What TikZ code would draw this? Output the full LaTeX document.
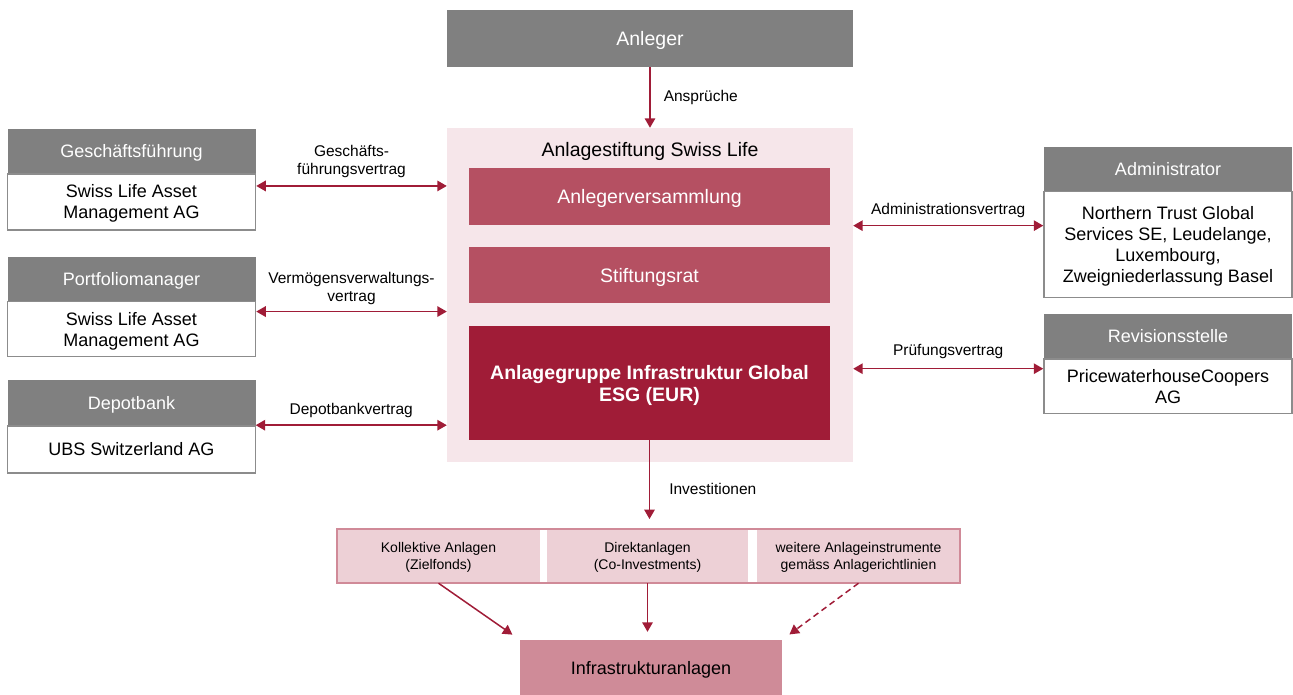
\documentclass[tikz,border=0pt]{standalone}
\usepackage{fontspec}
\setmainfont{Liberation Sans}
\usetikzlibrary{positioning,fit,arrows.meta}
\definecolor{hdrgray}{RGB}{128,128,128}
\definecolor{bdygray}{RGB}{140,140,140}
\definecolor{arrowred}{RGB}{160,28,55}
\definecolor{stiftpink}{RGB}{246,230,234}
\definecolor{organred}{RGB}{181,80,98}
\definecolor{grpred}{RGB}{160,28,55}
\definecolor{cellpink}{RGB}{237,208,214}
\definecolor{framepink}{RGB}{208,138,152}
\definecolor{infrapink}{RGB}{207,139,152}
\tikzset{
  hdr/.style={fill=hdrgray, text=white, minimum width=248pt, minimum height=44pt, inner sep=0pt,
    text depth=0pt, font=\fontsize{18}{21}\selectfont},
  bdy/.style={draw=bdygray, line width=1.5pt, fill=white, minimum width=248pt, inner sep=0pt,
    text depth=0pt, align=center, font=\fontsize{18}{21}\selectfont},
  organ/.style={fill=organred, text=white, minimum width=361pt, inner sep=0pt, align=center,
    text depth=0pt, font=\fontsize{19.5}{22}\selectfont},
  cell/.style={fill=cellpink, minimum height=54pt, inner sep=0pt, align=center,
    text depth=0pt, font=\fontsize{14}{16.5}\selectfont},
  tip/.tip={Triangle[length=9.5pt,width=10.5pt]},
  link/.style={tip-tip, color=arrowred, line width=1.5pt},
  flow/.style={-tip, color=arrowred, line width=1.5pt},
  lbl/.style={font=\fontsize{15.5}{18.5}\selectfont, align=center, inner sep=0pt, text=black},
}
\begin{document}
\begin{tikzpicture}[x=1pt, y=-1pt]
  \useasboundingbox (0,0) rectangle (1293,695);
  % Anleger and foundation
  \node[hdr, minimum width=406pt, minimum height=57pt, font=\fontsize{19.5}{22}\selectfont] (anleger) at (650,38.5) {Anleger};
  \node[fill=stiftpink, minimum width=406pt, minimum height=334pt, inner sep=0pt] (stift) at (650,295) {};
  \node[text depth=0pt, font=\fontsize{19.5}{22}\selectfont] (stitle) at (650,149) {Anlagestiftung Swiss Life};
  \node[organ, minimum height=57pt] (versamml) at (649.5,196.5) {Anlegerversammlung};
  \node[organ, minimum height=56pt] (rat) at (649.5,275) {Stiftungsrat};
  \node[organ, fill=grpred, minimum height=114pt, font=\fontsize{19.5}{22}\selectfont\bfseries] (grp) at (649.5,383)
    {Anlagegruppe Infrastruktur Global\\ESG (EUR)};
  % left partners
  \node[hdr] (ghdr) at (131.5,151) {Geschäftsführung};
  \node[bdy, minimum height=56pt, below=0pt of ghdr] (gbdy) {Swiss Life Asset\\Management AG};
  \node[hdr] (phdr) at (131.5,278.7) {Portfoliomanager};
  \node[bdy, minimum height=55pt, below=0pt of phdr] (pbdy) {Swiss Life Asset\\Management AG};
  \node[hdr, minimum height=45pt] (dhdr) at (131.5,402.5) {Depotbank};
  \node[bdy, minimum height=47pt, below=0pt of dhdr] (dbdy) {UBS Switzerland AG};
  % right partners
  \node[hdr] (ahdr) at (1168,168.7) {Administrator};
  \node[bdy, minimum height=106pt, below=0pt of ahdr] (abdy) {Northern Trust Global\\Services SE, Leudelange,\\Luxembourg,\\Zweigniederlassung Basel};
  \node[hdr] (rhdr) at (1168,336) {Revisionsstelle};
  \node[bdy, minimum height=54.7pt, below=0pt of rhdr] (rbdy) {PricewaterhouseCoopers\\AG};
  % investment instruments
  \node[cell, minimum width=203pt] (c1) at (438.5,556) {Kollektive Anlagen\\(Zielfonds)};
  \node[cell, minimum width=201pt] (c2) at (647.5,556) {Direktanlagen\\(Co-Investments)};
  \node[cell, minimum width=203pt] (c3) at (858.5,556) {weitere Anlageinstrumente\\gemäss Anlagerichtlinien};
  \node[draw=framepink, line width=1.5pt, inner sep=0pt, fit=(c1)(c3)] (instr) {};
  \node[fill=infrapink, minimum width=262pt, minimum height=55pt, inner sep=0pt, text depth=0pt, font=\fontsize{18}{21}\selectfont] (infra) at (651,667.5) {Infrastrukturanlagen};
  % connectors
  \draw[flow] (anleger.south) -- (stift.north) node[lbl, midway, right=13pt] {Ansprüche};
  \draw[flow, shorten >=9pt] (grp.south) -- (grp.south |- instr.north) node[lbl, pos=0.56, right=19pt] {Investitionen};
  \draw[link] ([yshift=16pt]gbdy.east) -- ([yshift=16pt]gbdy.east -| stift.west) node[lbl, midway, above=7pt] {Geschäfts-\\führungsvertrag};
  \draw[link] ([yshift=17.6pt]pbdy.east) -- ([yshift=17.6pt]pbdy.east -| stift.west) node[lbl, midway, above=6pt] {Vermögensverwaltungs-\\vertrag};
  \draw[link] (dhdr.south east) -- (dhdr.south east -| stift.west) node[lbl, midway, above=7pt] {Depotbankvertrag};
  \draw[link] ([yshift=19pt]abdy.west -| stift.east) -- ([yshift=19pt]abdy.west) node[lbl, midway, above=7pt] {Administrationsvertrag};
  \draw[link] ([yshift=17.6pt]rbdy.west -| stift.east) -- ([yshift=17.6pt]rbdy.west) node[lbl, midway, above=9pt] {Prüfungsvertrag};
  \draw[flow, shorten >=9pt] (c1.south) -- (infra.north west);
  \draw[flow, shorten >=8pt] (c2.south) -- (c2.south |- infra.north);
  \draw[flow, dash pattern=on 6pt off 4pt, shorten >=9pt] (c3.south) -- (infra.north east);
\end{tikzpicture}
\end{document}
